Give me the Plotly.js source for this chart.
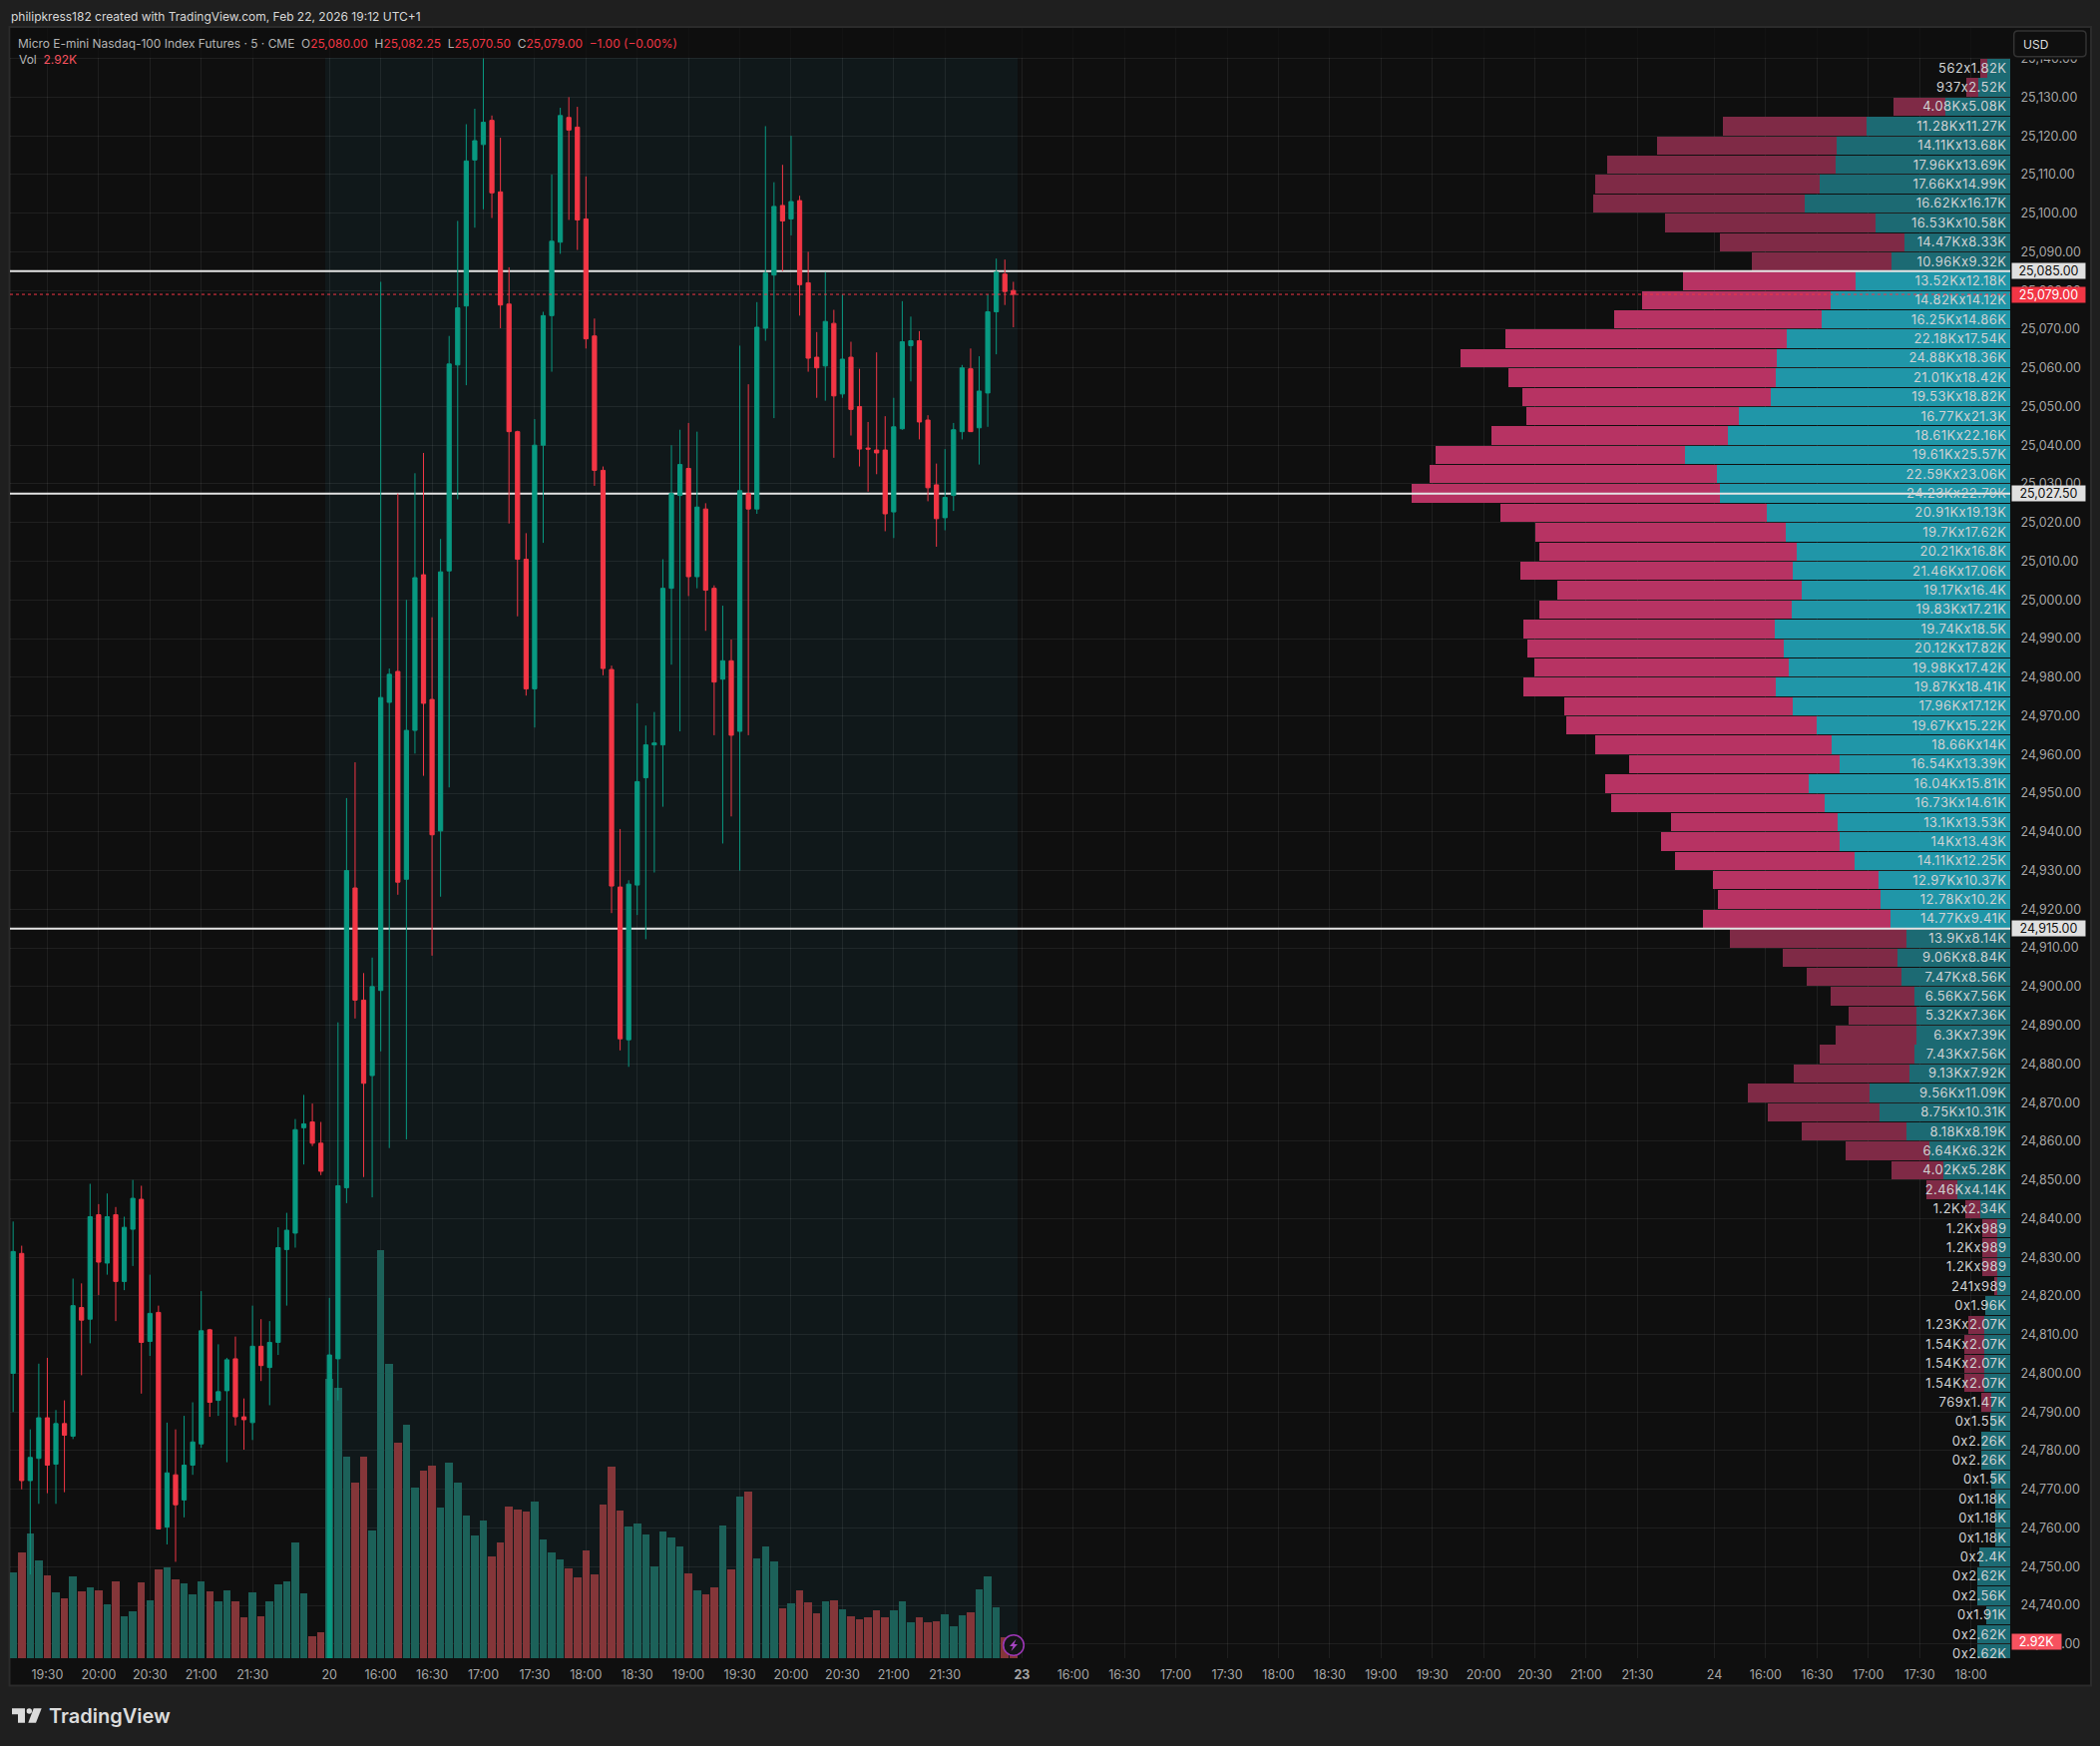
<!DOCTYPE html>
<html><head><meta charset="utf-8">
<script src="https://cdn.plot.ly/plotly-3.0.1.min.js"></script>
<style>html,body{margin:0;padding:0;background:#1f1f1f}#c{width:2105px;height:1750px}
.scatterlayer .textpoint text{letter-spacing:0.45px}</style>
</head><body><div id="c"></div>
<script>
const firstBarIndex = -37;
const opens = [24800,24831,24772.25,24778,24788.5,24776.5,24787,24783.75,24817,24814,24841,24828.5,24841,24823.75,24837.25,24845,24808.25,24815.75,24760.25,24773.75,24767.25,24776.25,24781.75,24811.25,24793,24795.5,24803.75,24788.75,24787.25,24807,24801.5,24808,24832,24836.25,24863.5,24865,24859.5,
24700,24803.75,24848,24925.5,24896.5,24877,24899,24973.5,24981.5,24927.75,24966.25,25006.5,24974.25,24940.25,25007.5,25060.75,25076,25113.75,25117.75,25124,25105.5,25076.5,25043.5,25010.5,24977,25040,25073.5,25092.5,25124.75,25122.25,25098.5,25068.25,25033.5,24982,24925.75,24886.25,24926.25,24954,24962.5,24962.5,25003,25027,25034,25006,25023.5,25003,24979.5,24984.25,24966,25027.5,25023.5,25070.25,25084,25102,25098.5,25103.25,25082,25062.75,25060.5,25071.5,25053.25,25062.75,25050,25039.25,25038.75,25038.75,25022.75,25044.25,25065.75,25067,25046.5,25029.75,25021.25,25027,25043.5,25059.75,25044.5,25053.5,25074.5,25084.25,25080];
const highs = [24839.25,24833,24785.5,24802.5,24804,24790.5,24793,24824.5,24823.25,24849,24843.75,24846.5,24843,24840.5,24850,24848.5,24825.5,24817.5,24787.25,24785.5,24789,24792.5,24821.25,24811.5,24807.5,24804,24809.5,24793.5,24817.5,24814,24813.5,24837.75,24841.5,24865.75,24872,24869.75,24865,
24819.5,24890.75,24948.75,24958,24903.5,24907.5,25082.25,24982.25,25027.5,25000,25032.75,25038,24995.5,25015.75,25068.25,25098,25123,25127,25140,25125.25,25119.5,25086,25043.75,25017.25,25046.75,25074.5,25110,25127.25,25130,25127.5,25109.5,25072.75,25034.5,24983,24940.75,24927.5,24973.25,24967.5,24971,25010.5,25040,25044,25045.75,25043.5,25025,25003.75,24998.5,24989.75,25065.75,25055.75,25077,25122.5,25108,25112.5,25120,25104.5,25090,25069.25,25084.75,25075,25079,25066.75,25059.75,25046,25064,25047.5,25052.25,25077.25,25073.25,25069.5,25047.75,25035.25,25039,25045.75,25060.75,25065,25063,25079,25088.25,25088,25082.25];
const lows = [24790,24770,24748,24766.25,24769,24766.25,24769.25,24783,24799.5,24807.75,24820.25,24825.5,24813.5,24821.5,24827.75,24794.75,24804.5,24759.75,24755.75,24751.25,24762.75,24773.75,24780.75,24788.75,24789,24777,24786.5,24780.25,24782.75,24798,24791.75,24804.75,24817.5,24832.5,24854,24858.75,24851.25,
24700,24793,24844,24891.75,24850.75,24845.5,24883.25,24858.25,24923.75,24860.5,24960.25,24954.5,24908,24923.25,24951.5,25026,25055.5,25096.25,25101,25098.75,25070.25,25019.75,24995.75,24975.25,24967,25014.75,25059,25089.5,25098.25,25090.5,25065,25029.5,24980.5,24919,24883.5,24879.25,24918.5,24912.25,24929.5,24946.5,24983.25,24966,25001,25003,24992,24965,24937,24944,24930,24965,25022.25,25067,25047,25085,25094.25,25073.5,25059,25052.25,25051.5,25036.75,25052.25,25042.5,25034.5,25028,25032.5,25017.75,25016,25044,25056.5,25041.5,25025.5,25013.75,25018,25023,25041.5,25043.5,25035,25044.75,25063.5,25076.25,25070.5];
const closes = [24831.5,24772.25,24778.25,24788.5,24776.25,24787,24784,24817.5,24813.75,24840.5,24828.75,24840.5,24823.75,24837.75,24845.25,24808,24815.5,24759.75,24774.25,24766,24776.25,24782.25,24811,24792.5,24795.25,24803.5,24788.75,24788,24807,24802,24808,24832.5,24837,24863,24864.5,24859.5,24852.25,
24804.75,24848.5,24930,24896.5,24875,24900,24974.75,24980.75,24927,24966.25,25005.75,24973.25,24939.25,25007.25,25061,25075.5,25113.5,25118.75,25123.5,25105.25,25076.25,25043.5,25010.5,24977,25040,25073.5,25092.75,25125.25,25121.5,25098.25,25067.5,25033.5,24982.25,24926,24886.5,24926.5,24953,24962.5,24963,25003,25027.5,25035,25006,25024,25002.5,24978.75,24984.25,24965,25028.25,25023.5,25070.5,25084.5,25101.75,25098,25103,25081.5,25062.5,25060,25072,25052.75,25062.25,25049.25,25039,25039,25038,25022.25,25044.75,25066.75,25067,25046,25029,25021,25026.5,25044,25060,25043.5,25054,25074.5,25084.75,25079.75,25079];
const volumesK = [14.74,18.16,21.58,16.78,14.21,11.32,10.26,14.08,11.45,12.17,11.65,9.21,13.23,7.17,8.03,13.03,9.94,15.27,15.59,13.55,12.83,10.99,13.23,11.45,9.74,11.65,9.74,6.97,11.32,7.17,9.74,12.7,13.23,19.87,11.12,3.75,4.41,
48.1,46.59,34.68,30.2,34.68,21.98,70.27,50.67,37.11,40.2,29.35,32.31,33.16,25.93,33.69,30.2,24.54,21.12,23.69,17.5,19.88,26.07,25.56,25.21,26.93,20.4,18.16,16.96,15.41,13.87,18.51,14.38,26.42,32.95,25.38,22.63,23.15,21.26,15.76,21.77,20.74,19.2,14.55,11.63,10.94,12.15,22.81,15.24,27.79,28.65,17.13,19.2,16.62,8.54,9.4,11.63,9.57,7.68,9.74,9.91,8.37,7.16,6.65,6.99,8.19,6.99,8.19,9.74,6.13,6.99,6.13,6.3,7.51,5.44,7.33,7.85,11.8,14.04,8.71,3.55,2.92];

const profileTopPrice = 25137.5;
const profileStep = 5;
const buyK = [0.562,0.937,4.08,11.28,14.11,17.96,17.66,16.62,16.53,14.47,10.96,13.52,14.82,16.25,22.18,24.88,21.01,19.53,16.77,18.61,19.61,22.59,24.23,20.91,19.7,20.21,21.46,19.17,19.83,19.74,20.12,19.98,19.87,17.96,19.67,18.66,16.54,16.04,16.73,13.1,14,14.11,12.97,12.78,14.77,13.9,9.06,7.47,6.56,5.32,6.3,7.43,9.13,9.56,8.75,8.18,6.64,4.02,2.46,1.2,1.2,1.2,1.2,0.241,0,1.23,1.54,1.54,1.54,0.769,0,0,0,0,0,0,0,0,0,0,0,0,0];
const sellK = [1.82,2.52,5.08,11.27,13.68,13.69,14.99,16.17,10.58,8.33,9.32,12.18,14.12,14.86,17.54,18.36,18.42,18.82,21.3,22.16,25.57,23.06,22.79,19.13,17.62,16.8,17.06,16.4,17.21,18.5,17.82,17.42,18.41,17.12,15.22,14,13.39,15.81,14.61,13.53,13.43,12.25,10.37,10.2,9.41,8.14,8.84,8.56,7.56,7.36,7.39,7.56,7.92,11.09,10.31,8.19,6.32,5.28,4.14,2.34,0.989,0.989,0.989,0.989,1.96,2.07,2.07,2.07,2.07,1.47,1.55,2.26,2.26,1.5,1.18,1.18,1.18,2.4,2.62,2.56,1.91,2.62,2.62];

const valueAreaHigh = 25085, pointOfControl = 25027.5, valueAreaLow = 24915, lastPrice = 25079;

const timeTickIndex = [-33,-27,-21,-15,-9,0,6,12,18,24,30,36,42,48,54,60,66,72,81,87,93,99,105,111,117,123,129,135,141,147,153,162,168,174,180,186,192];
const timeTickLabels = ['19:30','20:00','20:30','21:00','21:30','20','16:00','16:30','17:00','17:30','18:00','18:30','19:00','19:30','20:00','20:30','21:00','21:30','<b>23</b>','16:00','16:30','17:00','17:30','18:00','18:30','19:00','19:30','20:00','20:30','21:00','21:30','24','16:00','16:30','17:00','17:30','18:00'];

const UP='#089981', DOWN='#f23645';
const UI='Inter, "Liberation Sans", sans-serif';
// pane geometry (page pixels)
const L=10,R=2015,T=28,B=1662, W=R-L, H=B-T;
const px=x=>(x-L)/W, py=y=>(B-y)/H;
const barIdx=opens.map((_,i)=>i+firstBarIndex);
const rowPrice=buyK.map((_,i)=>profileTopPrice-i*profileStep);
const inVA=rowPrice.map(p=>p<valueAreaHigh&&p>valueAreaLow);
const fmt=v=>v>=1?(+v.toFixed(2))+'K':String(Math.round(v*1000));
const profileLabels=buyK.map((b,i)=>fmt(b)+'x'+fmt(sellK[i]));
const kRange=[157.25,0];

const data=[
 {type:'bar',orientation:'h',x:sellK,y:rowPrice,width:4.75,xaxis:'x',yaxis:'y',hoverinfo:'skip',
  marker:{color:inVA.map(v=>v?'#2096a8':'#1c6a73'),line:{width:0}}},
 {type:'bar',orientation:'h',x:buyK,y:rowPrice,width:4.75,xaxis:'x',yaxis:'y',hoverinfo:'skip',
  marker:{color:inVA.map(v=>v?'#b73363':'#7f2a46'),line:{width:0}}},
 ...[valueAreaHigh,pointOfControl,valueAreaLow].map(lv=>({type:'scatter',mode:'lines',x:kRange,y:[lv,lv],xaxis:'x',yaxis:'y',hoverinfo:'skip',
   line:{color:'#e4e4e4',width:2}})),
 {type:'scatter',mode:'text',x:rowPrice.map(()=>0.27),y:rowPrice.map(p=>p-0.3),text:profileLabels,textposition:'middle left',xaxis:'x',yaxis:'y',hoverinfo:'skip',cliponaxis:false,
  textfont:{family:UI,size:13,color:'#cfd1d3'}},
 {type:'bar',x:barIdx,y:volumesK,width:0.88,xaxis:'x2',yaxis:'y2',hoverinfo:'skip',
  marker:{color:closes.map((c,i)=>c>=opens[i]?'#1c6159':'#843639'),line:{width:0}}},
 {type:'candlestick',x:barIdx,open:opens,high:highs,low:lows,close:closes,xaxis:'x2',yaxis:'y3',hoverinfo:'skip',whiskerwidth:0,
  increasing:{line:{color:UP,width:1},fillcolor:UP},decreasing:{line:{color:DOWN,width:1},fillcolor:DOWN}}
];
const priceRange=[24726.33,25147.9];
const grid='rgba(242,242,242,0.075)';
const priceTag=(p,txt,bg,fg)=>({xref:'paper',yref:'y',x:px(2016),y:p,xanchor:'left',yanchor:'middle',text:txt,showarrow:false,width:73,height:15,bgcolor:bg,borderpad:0,align:'center',font:{family:UI,size:12.5,color:fg}});
const note=(x,y,txt,size,color,extra)=>Object.assign({xref:'paper',yref:'paper',x:px(x),y:py(y),xanchor:'left',yanchor:'middle',text:txt,showarrow:false,font:{family:UI,size,color}},extra||{});
const red=s=>`<span style="color:#f23645">${s}</span>`;
const path=(pts)=>pts.map((p,i)=>(i?'L':'M')+px(p[0])+','+py(p[1])).join(' ')+' Z';
const rect=(x0,y0,x1,y1,fill,line,layer)=>({type:'rect',xref:'paper',yref:'paper',x0:px(x0),x1:px(x1),y0:py(y0),y1:py(y1),fillcolor:fill,line:line||{width:0},layer:layer||'above'});
const c0=1016,c1=1649;
const rr=(x0,y0,x1,y1,r)=>`M${px(x0+r)},${py(y0)} L${px(x1-r)},${py(y0)} Q${px(x1)},${py(y0)} ${px(x1)},${py(y0+r)} L${px(x1)},${py(y1-r)} Q${px(x1)},${py(y1)} ${px(x1-r)},${py(y1)} L${px(x0+r)},${py(y1)} Q${px(x0)},${py(y1)} ${px(x0)},${py(y1-r)} L${px(x0)},${py(y0+r)} Q${px(x0)},${py(y0)} ${px(x0+r)},${py(y0)} Z`;
const shapes=[
 rect(9.5,27,2096,1689.5,'#0f0f0f',{color:'#2b2b2b',width:2},'below'),
 {type:'rect',xref:'x2',yref:'paper',x0:-0.5,x1:80.5,y0:0,y1:py(58),fillcolor:'#10181a',line:{width:0},layer:'below'},
 rect(10.5,28,2015,58,'rgba(15,15,15,0.75)'),
 rect(2016,28,2094.5,59.5,'#0f0f0f'),
 {type:'path',xref:'paper',yref:'paper',path:rr(2018.7,31,2091,56.7,4),line:{color:'#333333',width:1.5},fillcolor:'#0f0f0f',layer:'above'},
 {type:'line',xref:'paper',yref:'y',x0:0,x1:1,y0:lastPrice,y1:lastPrice,line:{color:DOWN,width:1,dash:'dot'},layer:'above'},
 {type:'circle',xref:'paper',yref:'paper',x0:px(c0-10.3),x1:px(c0+10.3),y0:py(c1-10.3),y1:py(c1+10.3),fillcolor:'#131517',line:{color:'#9c36b5',width:1.6},layer:'above'},
 {type:'path',xref:'paper',yref:'paper',path:path([[c0+2.5,c1-6],[c0-4,c1+1],[c0-0.5,c1+1],[c0-2.5,c1+6],[c0+4,c1-1],[c0+0.5,c1-1]]),fillcolor:'#a845c4',line:{width:0},layer:'above'},
 // TradingView logo
 {type:'path',xref:'paper',yref:'paper',path:path([[12,1712.3],[25,1712.3],[25,1726.7],[18,1726.7],[18,1718.3],[12,1718.3]]),fillcolor:'#dcdcdc',line:{width:0},layer:'above'},
 {type:'circle',xref:'paper',yref:'paper',x0:px(26.6),x1:px(32),y0:py(1712.3),y1:py(1717.7),fillcolor:'#dcdcdc',line:{width:0},layer:'above'},
 {type:'path',xref:'paper',yref:'paper',path:path([[33.7,1712.3],[41.7,1712.3],[36,1726.7],[28.3,1726.7]]),fillcolor:'#dcdcdc',line:{width:0},layer:'above'}
];
const annotations=[
 note(9,16,'philipkress182 created with TradingView.com, Feb 22, 2026 19:12 UTC+1',12,'#d8d8d8'),
 note(16,43,'Micro E-mini Nasdaq-100 Index Futures · 5 · CME  O'+red('25,080.00')+'  H'+red('25,082.25')+'  L'+red('25,070.50')+'  C'+red('25,079.00')+'  '+red('−1.00 (−0.00%)'),11.95,'#b4b4b4'),
 note(17,59,'Vol  <span style="color:#f7525f">2.92K</span>',12,'#b4b4b4'),
 note(2026,44,'USD',12,'#dddddd'),
 (()=>{const a=note(47,1720,'TradingView',20,'#dcdcdc');a.font.weight=600;return a;})(),
 priceTag(valueAreaHigh,'25,085.00','#e0e0e0','#111111'),
 priceTag(pointOfControl,'25,027.50','#e0e0e0','#111111'),
 priceTag(valueAreaLow,'24,915.00','#e0e0e0','#111111'),
 priceTag(lastPrice,'25,079.00',DOWN,'#ffffff'),
 Object.assign(note(2016,1645,'2.92K',12.5,'#ffffff'),{bgcolor:'#f7525f',width:49,height:15,borderpad:0,align:'center'})
];
const layout={
 width:2105,height:1750,paper_bgcolor:'#1f1f1f',plot_bgcolor:'#0f0f0f',
 margin:{l:L,r:2105-R,t:T,b:1750-B,pad:0},showlegend:false,barmode:'stack',bargap:0,boxgap:0.3,
 xaxis:{range:kRange,showgrid:false,zeroline:false,showticklabels:false,ticks:'',fixedrange:true,showline:false},
 yaxis:{range:priceRange,side:'right',anchor:'x',dtick:10,tick0:24730,tickformat:',.2f',showgrid:true,gridcolor:grid,gridwidth:1,zeroline:false,showline:false,
  ticks:'outside',ticklen:7,tickcolor:'rgba(0,0,0,0)',ticklabelshift:-1.3,tickfont:{family:UI,size:12.5,color:'#a6a6a6'},fixedrange:true},
 xaxis2:{overlaying:'x',anchor:'y',side:'bottom',range:[-37.37,196.6],tickmode:'array',tickvals:timeTickIndex,ticktext:timeTickLabels,showgrid:true,gridcolor:grid,gridwidth:1,zeroline:false,showline:false,
  ticks:'outside',ticklen:5,tickcolor:'rgba(0,0,0,0)',tickangle:0,tickfont:{family:UI,size:12.5,color:'#a6a6a6'},rangeslider:{visible:false},fixedrange:true},
 yaxis2:{overlaying:'y',range:[0,281],visible:false,fixedrange:true},
 yaxis3:{overlaying:'y',range:priceRange,visible:false,fixedrange:true},
 shapes,annotations
};
Plotly.newPlot('c',data,layout,{displayModeBar:false,staticPlot:true});
</script></body></html>
